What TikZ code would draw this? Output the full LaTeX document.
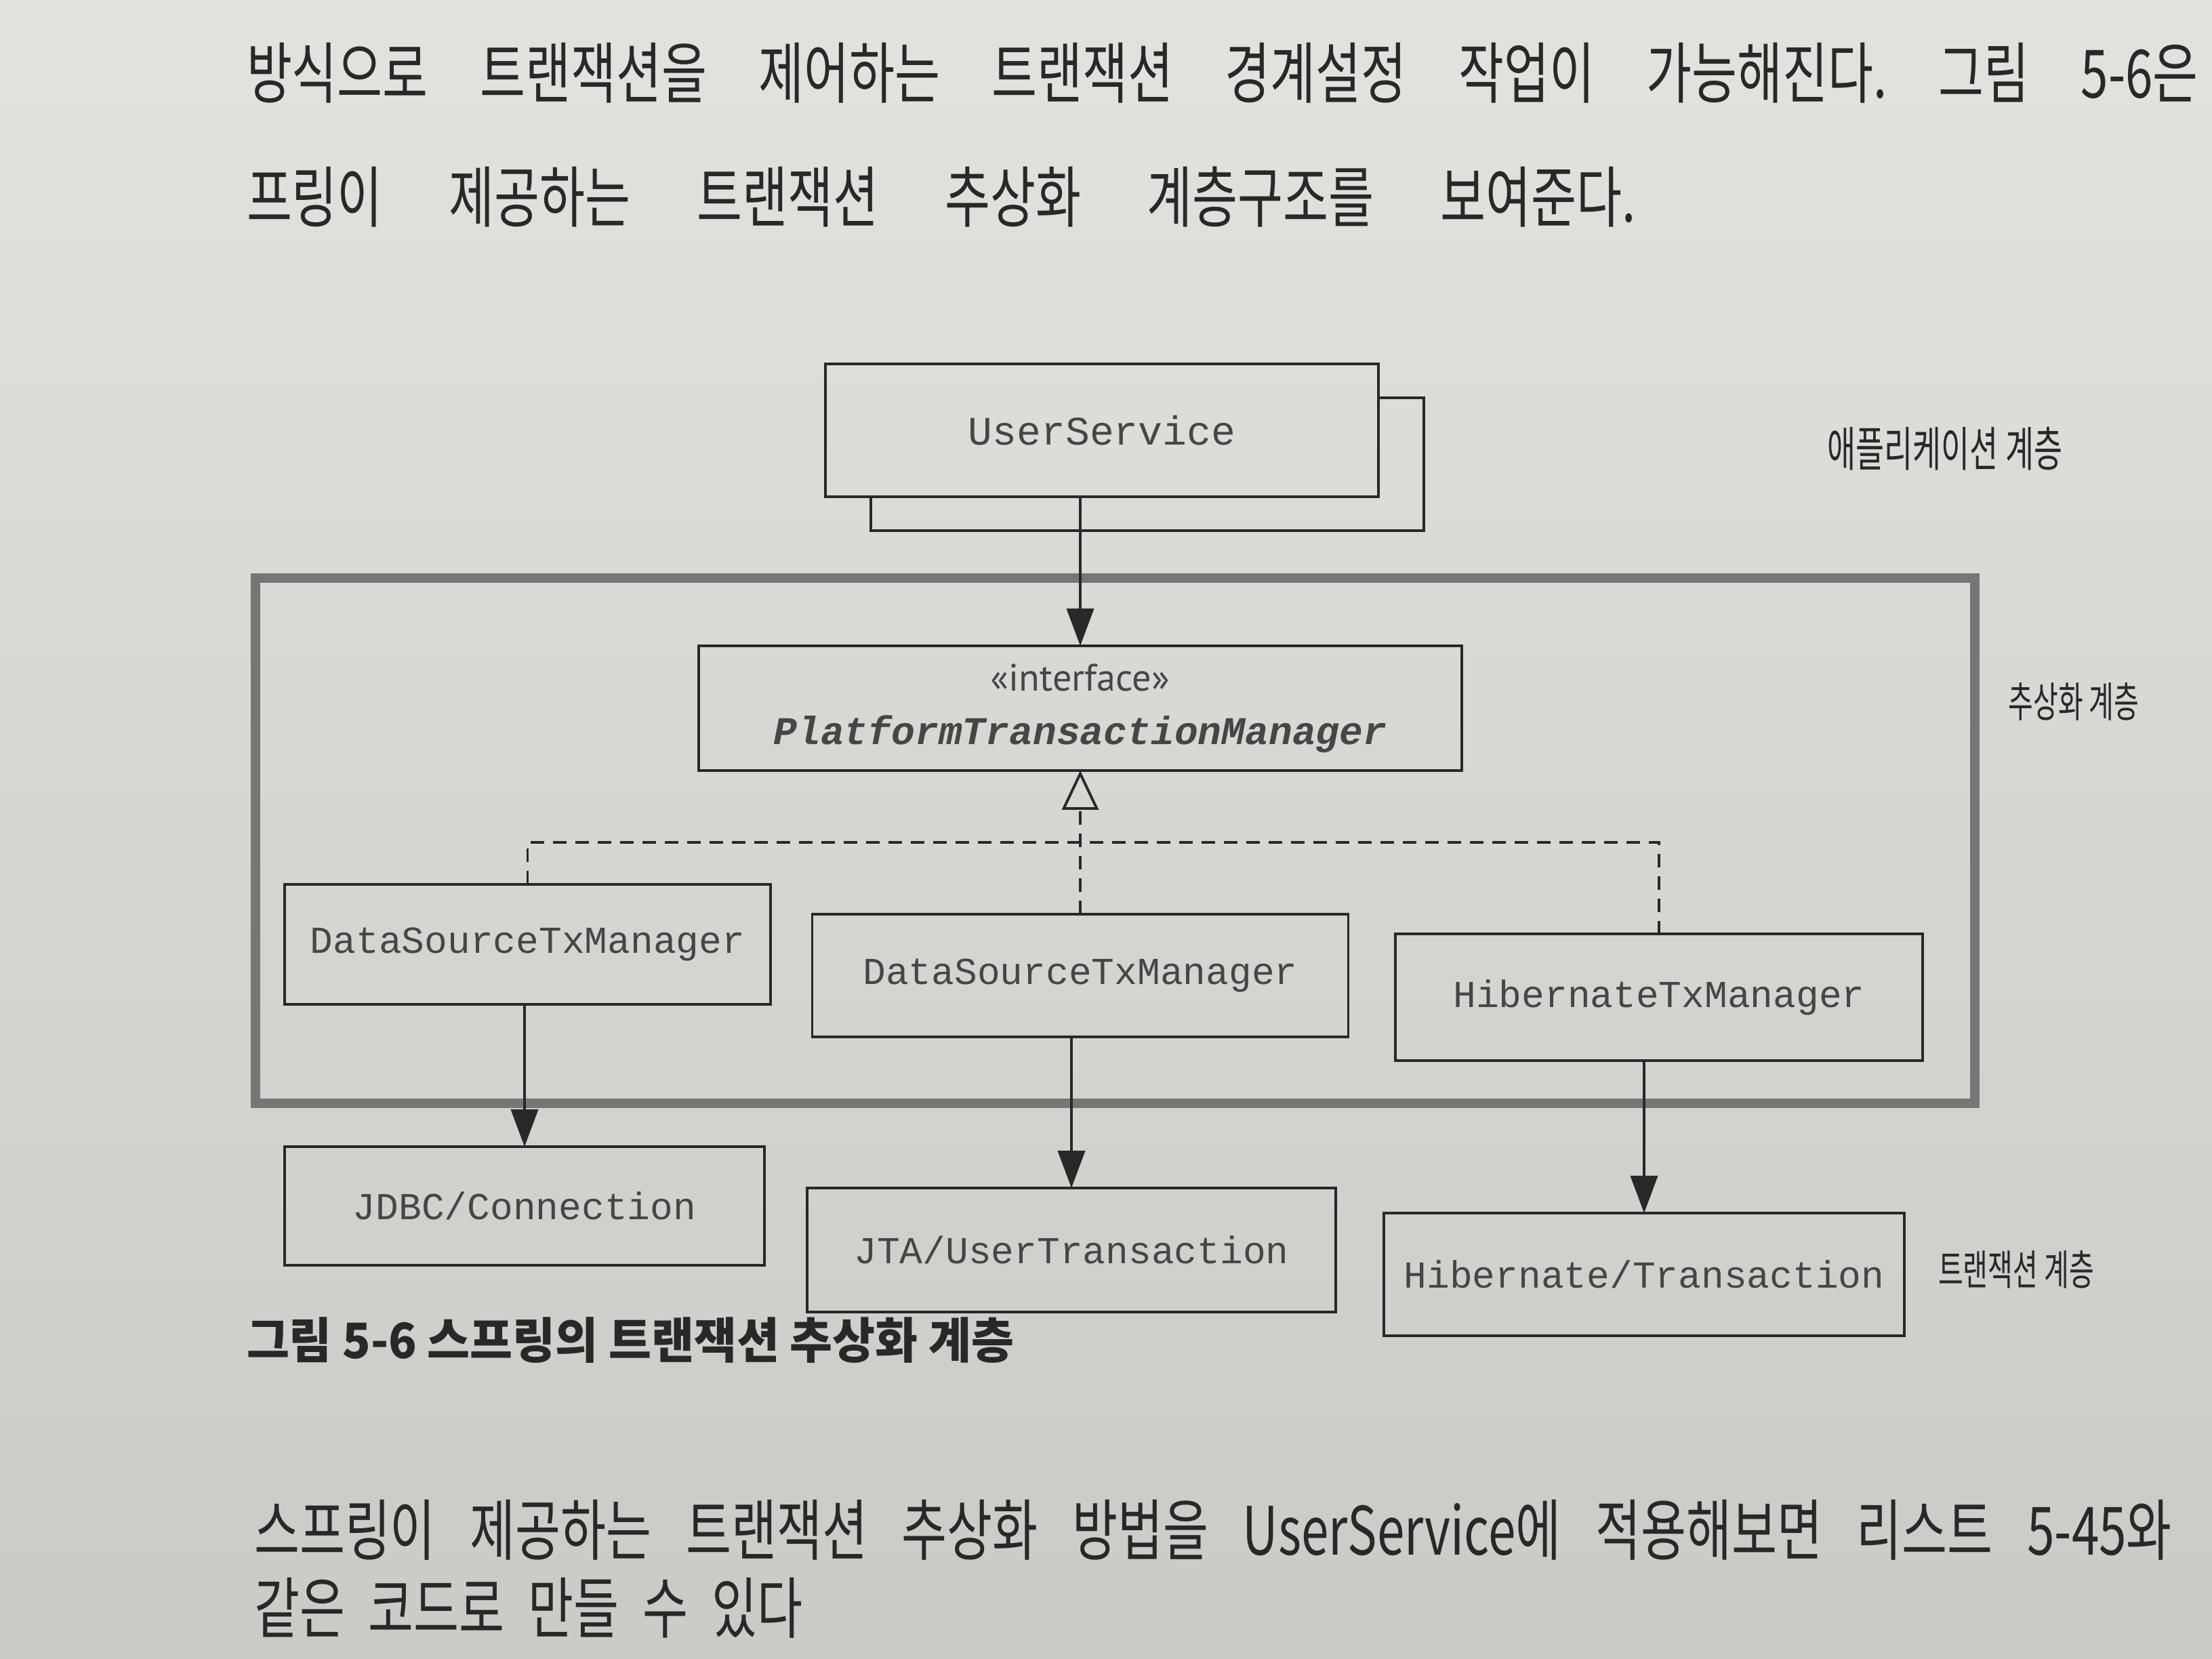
\documentclass[tikz,border=0pt]{standalone}
\usepackage{fontspec}
\setmainfont{Liberation Sans}
\setmonofont{Liberation Mono}
\newfontfamily\krfont[FakeStretch=0.74]{Noto Sans CJK KR}
\newfontfamily\krlabelfont[FakeStretch=0.65]{Noto Sans CJK KR}
\newfontfamily\krcapfont[FakeStretch=0.95]{Noto Sans CJK KR}
\newfontfamily\stereofont{PT Sans}
\usetikzlibrary{arrows.meta, positioning, calc}
\definecolor{Paper}{RGB}{228, 226, 223}
\definecolor{PaperDark}{RGB}{204, 202, 199}
\definecolor{Ink}{RGB}{40, 40, 40}
\definecolor{BoxText}{RGB}{70, 70, 70}
\definecolor{Frame}{RGB}{118, 118, 118}

\begin{document}
\begin{tikzpicture}[
        every node/.style={inner sep=0pt, outer sep=0pt},
        box/.style={draw=Ink, line width=1pt, rectangle, text=BoxText, font=\ttfamily\fontsize{16}{19}\selectfont},
        flow/.style={draw=Ink, line width=1.1pt, -{Triangle[length=0.55cm, width=0.4cm]}},
        impl/.style={draw=Ink, line width=1.1pt, dash pattern=on 0.2cm off 0.13cm},
        layerlabel/.style={text=Ink, font=\krlabelfont\fontsize{17.5}{20}\selectfont},
        bodyline/.style={anchor=west, align=justify, text=Ink, font=\krfont\fontsize{28}{33}\selectfont,
            execute at begin node={\frenchspacing\parfillskip=0pt\spaceskip=0.2cm plus 3cm\xspaceskip=0.2cm plus 3cm\relax}}
    ]
        % Page
        \shade[top color=Paper, bottom color=PaperDark] (0,0) rectangle (32.64,24.48);
        \useasboundingbox (0,0) rectangle (32.64,24.48);

        % Text above
        \node[bodyline, text width=28.8cm] (bodyA) at (3.64,23.40) {방식으로 트랜잭션을 제어하는 트랜잭션 경계설정 작업이 가능해진다. 그림 5-6은};
        \node[bodyline, text width=20.5cm] (bodyB) at (3.64,21.57) {프링이 제공하는 트랜잭션 추상화 계층구조를 보여준다.};

        % Application layer
        \node[minimum width=8.16cm, minimum height=1.96cm] (usvcback) at (16.93,17.63) {};
        \node[box, minimum width=8.16cm, minimum height=1.96cm, font=\ttfamily\fontsize{17}{20}\selectfont] (usvc) at (16.26,18.13) {UserService};
        \draw[draw=Ink, line width=1pt] (usvc.east |- usvcback.north) -- (usvcback.north east) -- (usvcback.south east) -- (usvcback.south west) -- (usvcback.west |- usvc.south);

        % Abstraction layer
        \node[draw=Frame, line width=4pt, minimum width=25.37cm, minimum height=7.75cm] (abslayer) at (16.455,12.075) {};
        \node[box, minimum width=11.26cm, minimum height=1.84cm, align=center] (ptm) at (15.94,14.03)
            {{\stereofont\fontsize{16}{19}\selectfont «interface»}\\[0.12cm]{\bfseries\itshape\fontsize{16.5}{19}\selectfont PlatformTransactionManager}};
        \node[box, minimum width=7.17cm, minimum height=1.77cm] (dstxA) at (7.785,10.545) {DataSourceTxManager};
        \node[box, minimum width=7.91cm, minimum height=1.81cm] (dstxB) at (15.94,10.085) {DataSourceTxManager};
        \node[box, minimum width=7.78cm, minimum height=1.87cm] (hbtx) at (24.48,9.765) {HibernateTxManager};

        % Transaction layer
        \node[box, minimum width=7.08cm, minimum height=1.75cm] (jdbc) at (7.74,6.685) {JDBC/Connection};
        \node[box, minimum width=7.80cm, minimum height=1.83cm] (jta) at (15.81,6.035) {JTA/UserTransaction};
        \node[box, minimum width=7.68cm, minimum height=1.81cm] (hbtr) at (24.26,5.675) {Hibernate/Transaction};

        % Layer labels
        \node[layerlabel, font=\krlabelfont\fontsize{20}{23}\selectfont] (applabel) at (28.70,17.86) {애플리케이션 계층};
        \node[layerlabel] (abslabel) at (30.60,14.13) {추상화 계층};
        \node[layerlabel] (txlabel) at (29.75,5.75) {트랜잭션 계층};

        % Arrows
        \draw[flow] (ptm.north |- usvc.south) -- (ptm.north);
        \draw[flow] (jdbc.north |- dstxA.south) -- (jdbc.north);
        \draw[flow] (jta.north |- dstxB.south) -- (jta.north);
        \draw[flow] (hbtr.north |- hbtx.south) -- (hbtr.north);

        % Implementations
        \coordinate (implbus) at ($(ptm.south)!0.5!(dstxB.north)$);
        \draw[impl, -{Triangle[open, length=0.58cm, width=0.54cm]}] (dstxB.north) -- (ptm.south);
        \draw[impl] (dstxA.north) |- (implbus) -| (hbtx.north);

        % Caption
        \node[anchor=west, text=Ink, font=\krcapfont\bfseries\fontsize{20.5}{24}\selectfont] (caption) at (3.64,4.70) {그림 5-6 스프링의 트랜잭션 추상화 계층};

        % Text below
        \node[bodyline, text width=28.3cm] (bodyC) at (3.75,1.90) {스프링이 제공하는 트랜잭션 추상화 방법을 UserService에 적용해보면 리스트 5-45와};
        \node[bodyline, text width=8.1cm] (bodyD) at (3.75,0.75) {같은 코드로 만들 수 있다};
    \end{tikzpicture}
\end{document}
